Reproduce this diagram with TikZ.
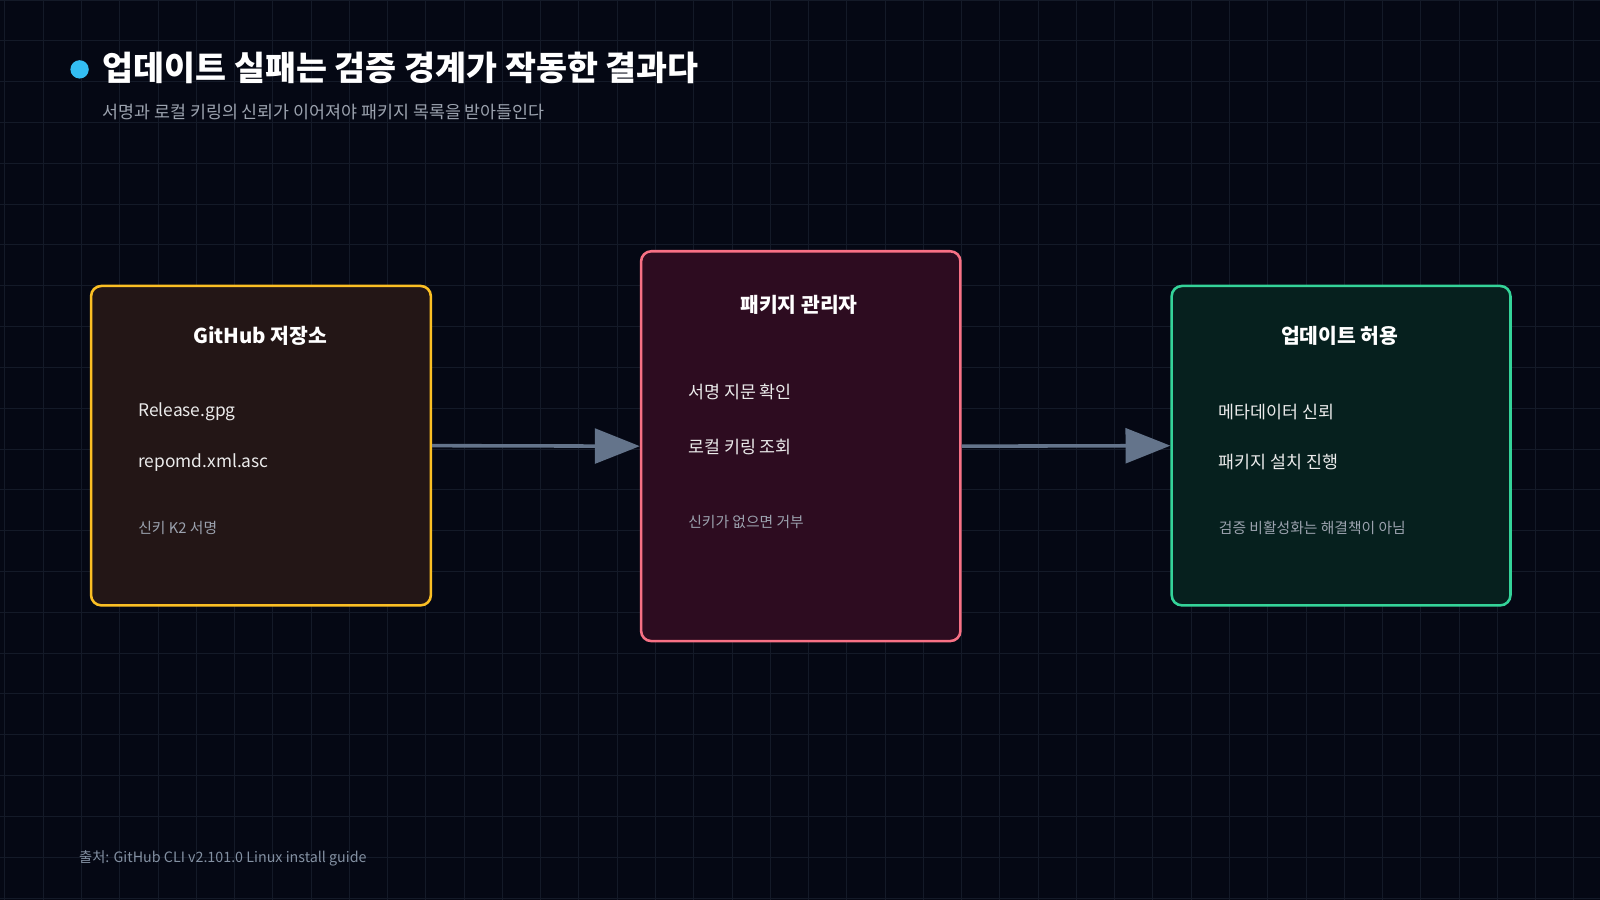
\documentclass[tikz,border=0pt]{standalone}
\usepackage{fontspec}
\setmainfont{Noto Sans CJK KR}
\usetikzlibrary{arrows.meta,positioning}
\definecolor{bg}{HTML}{050814}
\definecolor{gridc}{HTML}{141A28}
\definecolor{subc}{HTML}{9CA3AF}
\definecolor{arrc}{HTML}{64748B}
\definecolor{repoc}{HTML}{FBBF24}
\definecolor{repof}{HTML}{231616}
\definecolor{mgrc}{HTML}{F87185}
\definecolor{mgrf}{HTML}{2D0C20}
\definecolor{okc}{HTML}{34D399}
\definecolor{okf}{HTML}{06201E}
\tikzset{
  box/.style={draw, line width=2.5pt, rounded corners=10pt, anchor=north west},
  head/.style={text=white, font=\fontsize{20}{24}\selectfont\bfseries},
  item/.style={text=white!92!black, anchor=west, font=\fontsize{17}{20}\selectfont},
  note/.style={text=subc, anchor=west, font=\fontsize{14.5}{18}\selectfont},
  flow/.style={draw=arrc, line width=3.5pt, -{Triangle[length=44pt,width=34pt]}}
}
\begin{document}
\begin{tikzpicture}[x=1pt,y=-1pt]
 \fill[bg] (0,0) rectangle (1568,882);
 \useasboundingbox (0,0) rectangle (1568,882);
 \foreach \i in {0,...,42} \draw[gridc, line width=0.8pt] (4.8+37.5*\i,0) -- (4.8+37.5*\i,882);
 \foreach \j in {0,...,22} \draw[gridc, line width=0.8pt] (0,40*\j) -- (1568,40*\j);
 % title
 \fill[cyan!80!white] (78,68) circle (9);
 \node[anchor=west, text=white, font=\fontsize{33}{38}\selectfont\bfseries] (title) at (97,67) {업데이트 실패는 검증 경계가 작동한 결과다};
 \node[anchor=west, text=subc, font=\fontsize{17}{20}\selectfont] (sub) at (97,110) {서명과 로컬 키링의 신뢰가 이어져야 패키지 목록을 받아들인다};
 % boxes
 \node[box, draw=repoc, fill=repof, minimum width=333, minimum height=313] (repo) at (88,279) {};
 \node[box, draw=mgrc, fill=mgrf, minimum width=313, minimum height=382] (mgr) at (627,245) {};
 \node[box, draw=okc, fill=okf, minimum width=332, minimum height=313] (ok) at (1147,279) {};
 \draw[flow] (repo.east) -- (mgr.west);
 \draw[flow] (mgr.east) -- (ok.west);
 % repo
 \node[head] at (255,329) {GitHub 저장소};
 \node[item] at (132,404) {Release.gpg};
 \node[item] at (132,453) {repomd.xml.asc};
 \node[note] at (132,517) {신키 K2 서명};
 % manager
 \node[head] at (783,299) {패키지 관리자};
 \node[item] at (671,384) {서명 지문 확인};
 \node[item] at (671,438) {로컬 키링 조회};
 \node[note] at (671,512) {신키가 없으면 거부};
 % allowed
 \node[head] at (1313,329) {업데이트 허용};
 \node[item] at (1191,404) {메타데이터 신뢰};
 \node[item] at (1191,453) {패키지 설치 진행};
 \node[note] at (1191,517) {검증 비활성화는 해결책이 아님};
 \node[anchor=west, text=arrc!80!white, font=\fontsize{14}{17}\selectfont] (src) at (74,841) {출처: GitHub CLI v2.101.0 Linux install guide};
\end{tikzpicture}
\end{document}
